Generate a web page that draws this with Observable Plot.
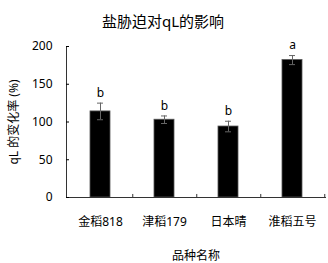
<!DOCTYPE html>
<html><head><meta charset="utf-8">
<script src="https://cdn.jsdelivr.net/npm/d3@7"></script>
<script src="https://cdn.jsdelivr.net/npm/@observablehq/plot@0.6"></script>
<style>body{margin:0;background:#fff}</style>
</head><body><div id="chart"></div>
<script>
const categories = ["金稻818", "津稻179", "日本晴", "淮稻五号"];
const values = [114, 103, 94, 182];
const errors = [11, 5, 7, 6];
const letters = ["b", "b", "b", "a"];
const yTicks = [0, 50, 100, 150, 200];
const title = "盐胁迫对qL的影响";

const data = categories.map((c, i) => ({c, v: values[i], e: errors[i], l: letters[i]}));
const font = "'Noto Sans','Noto Sans CJK SC',sans-serif";

const chart = Plot.plot({
  width: 328, height: 263,
  marginLeft: 66, marginRight: 3, marginTop: 46, marginBottom: 66,
  style: {fontFamily: font, fontSize: "12px", color: "#000", background: "#fff"},
  x: {domain: categories, padding: 0},
  y: {domain: [0, 200]},
  marks: [
    Plot.barY(data, {x: "c", y: "v", fill: "#000", stroke: "#555", strokeWidth: 0.8, insetLeft: 22, insetRight: 22}),
    Plot.ruleX(data, {x: "c", y1: d => d.v - d.e, y2: d => d.v + d.e, stroke: "#666", strokeWidth: 1}),
    Plot.tickY(data, {x: "c", y: d => d.v - d.e, stroke: "#666", insetLeft: 29, insetRight: 29}),
    Plot.tickY(data, {x: "c", y: d => d.v + d.e, stroke: "#666", insetLeft: 29, insetRight: 29}),
    Plot.text(data, {x: "c", y: d => d.v + d.e, text: "l", dy: -10, fontSize: 12, fill: "#000"}),
    Plot.ruleX(categories, {x: d => d, y1: 0, y2: 4, dx: 32.25, stroke: "#333"}),
    Plot.frame({anchor: "left", stroke: "#333"}),
    Plot.frame({anchor: "bottom", stroke: "#333"}),
    Plot.axisY({ticks: yTicks, tickSize: -3, tickPadding: 17, label: "qL 的变化率 (%)", labelAnchor: "center", labelArrow: false, labelOffset: 57, fontSize: 12}),
    Plot.axisX({tickSize: 0, tickPadding: 20, label: "品种名称", labelAnchor: "center", labelArrow: false, labelOffset: 62, fontSize: 12}),
    Plot.text([title], {frameAnchor: "top", dy: -30, dx: -33, fontSize: 15, fill: "#000"})
  ]
});
document.getElementById("chart").append(chart);
</script>
</body></html>
